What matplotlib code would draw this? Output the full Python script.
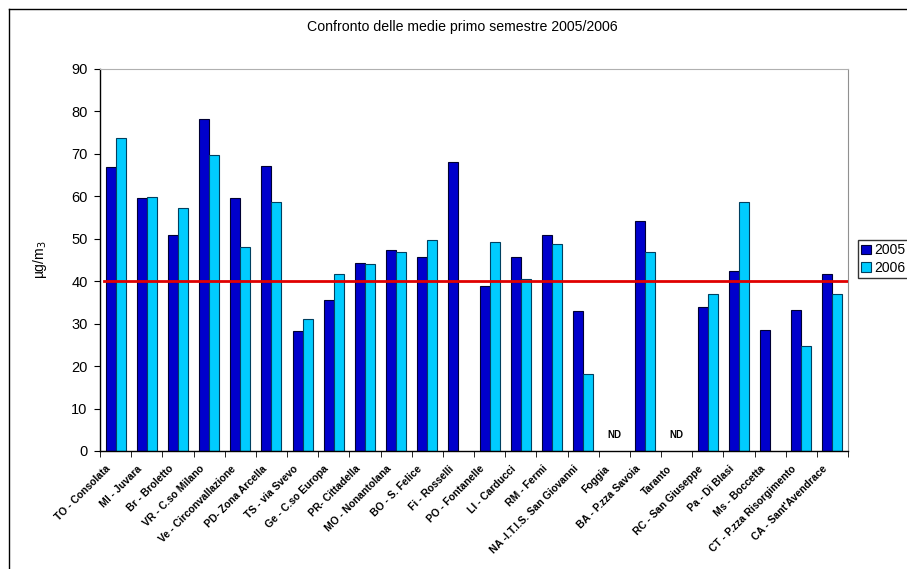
import numpy as np
import matplotlib
matplotlib.use('Agg')
import matplotlib.pyplot as plt
from matplotlib.lines import Line2D

plt.rcParams['font.family'] = ['Liberation Sans', 'DejaVu Sans']

stations = ['TO - Consolata', 'MI - Juvara', 'Br - Broletto', 'VR - C.so Milano',
            'Ve - Circonvallazione', 'PD- Zona Arcella', 'TS - via Svevo', 'Ge - C.so Europa',
            'PR- Cittadella', 'MO - Nonantolana', 'BO - S. Felice', 'Fi - Rosselli',
            'PO - Fontanelle', 'LI - Carducci', 'RM - Fermi', 'NA -I.T.I.S. San Giovanni',
            'Foggia', 'BA - P.zza Savoia', 'Taranto', 'RC - San Giuseppe', 'Pa - Di Blasi',
            'Ms - Boccetta', 'CT - P.zza Risorgimento', 'CA - Sant\'Avendrace']

# medie primo semestre (NaN = dato non disponibile)
nan = np.nan
media_2005 = [67.0, 59.6, 51.0, 78.3, 59.6, 67.1, 28.2, 35.5, 44.3, 47.3, 45.6, 68.0,
              38.8, 45.8, 50.9, 33.1, nan, 54.3, nan, 34.0, 42.5, 28.5, 33.3, 41.8]
media_2006 = [73.7, 59.9, 57.2, 69.7, 48.1, 58.75, 31.0, 41.6, 44.0, 46.8, 49.6, nan,
              49.2, 40.6, 48.7, 18.1, nan, 47.0, nan, 37.0, 58.7, nan, 24.8, 37.0]
no_data = ['Foggia', 'Taranto']
limite = 40

x = np.arange(len(stations))
w = 0.32

fig = plt.figure(figsize=(9.07, 5.69), dpi=100)
ax = fig.add_axes([100 / 907, 118 / 569, 748 / 907, 382 / 569])

ax.bar(x - w / 2, media_2005, w, color='#0000CC', edgecolor='#000033', linewidth=0.8, label='2005', zorder=2)
ax.bar(x + w / 2, media_2006, w, color='#00CCFF', edgecolor='#004060', linewidth=0.8, label='2006', zorder=2)

for name in no_data:
    i = stations.index(name)
    ax.text(x[i], 3.8, 'ND', ha='center', va='center', fontsize=7, fontweight='bold')

ax.axhline(limite, xmin=0.005, xmax=1, color='#E00000', linewidth=2, zorder=3)

ax.set_xlim(-0.5, len(stations) - 0.5)
ax.set_ylim(0, 90)
ax.set_yticks(range(0, 91, 10))
ax.tick_params(axis='y', labelsize=10.5, length=4, direction='out', pad=5)
ax.set_xticks(x - 0.32)
ax.set_xticklabels(stations, rotation=45, ha='right', rotation_mode='anchor',
                   fontsize=7.5, fontweight='bold')
ax.tick_params(axis='x', length=0, pad=9)
ax.set_xticks(np.arange(-0.5, len(stations), 1), minor=True)
ax.tick_params(axis='x', which='minor', length=4, direction='out')

ax.spines['top'].set_color('#B0B0B0')
ax.spines['right'].set_color('#909090')
ax.spines['left'].set_linewidth(1)
ax.spines['bottom'].set_linewidth(1)

ax.set_ylabel('µg/m$_3$', fontsize=10, labelpad=16)

fig.text(462 / 907, 1 - 27 / 569, 'Confronto delle medie primo semestre 2005/2006',
         ha='center', va='center', fontsize=10.2)

# cornice esterna del grafico
fig.add_artist(Line2D([9 / 907, 9 / 907], [0, 1 - 9 / 569], color='black', linewidth=1))
fig.add_artist(Line2D([9 / 907, 1], [1 - 9 / 569, 1 - 9 / 569], color='black', linewidth=1))

fig.legend(loc='upper left', bbox_to_anchor=(858 / 907, 1 - 240 / 569), fontsize=10,
           frameon=True, fancybox=False, edgecolor='black', handlelength=0.7,
           handleheight=0.7, handletextpad=0.2, borderpad=0.25, labelspacing=0.25,
           borderaxespad=0)

fig.savefig('out.png', dpi=100)
